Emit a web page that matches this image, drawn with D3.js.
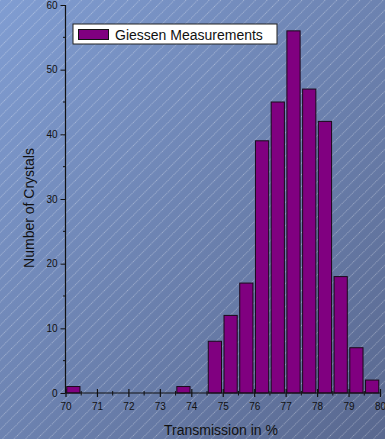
<!DOCTYPE html>
<html><head><meta charset="utf-8">
<script src="https://cdn.jsdelivr.net/npm/d3@7"></script>
<style>html,body{margin:0;padding:0;overflow:hidden;background:#6b80b0}</style>
</head><body>
<script>
const binStarts = [70,70.5,71,71.5,72,72.5,73,73.5,74,74.5,75,75.5,76,76.5,77,77.5,78,78.5,79,79.5];
const counts    = [1, 0, 0, 0, 0, 0, 0, 1, 0, 8, 12, 17, 39, 45, 56, 47, 42, 18, 7, 2];
const xTicks = [70,71,72,73,74,75,76,77,78,79,80];
const yTicks = [0,10,20,30,40,50,60];
const seriesName = "Giessen Measurements";

const W = 385, H = 439;
const svg = d3.select("body").append("svg").attr("width", W).attr("height", H);
const defs = svg.append("defs");
const g = defs.append("linearGradient").attr("id","bg").attr("x1","0").attr("y1","0").attr("x2","1").attr("y2","1");
g.append("stop").attr("offset","0").attr("stop-color","#809dd2");
g.append("stop").attr("offset","1").attr("stop-color","#59688f");
const pat = defs.append("pattern").attr("id","hatch").attr("patternUnits","userSpaceOnUse")
  .attr("width",8.2).attr("height",8.2).attr("patternTransform","rotate(45)");
pat.append("line").attr("x1",0.5).attr("y1",0).attr("x2",0.5).attr("y2",8.2)
  .attr("stroke","#ffffff").attr("stroke-opacity",0.5).attr("stroke-width",0.7).attr("stroke-dasharray","1,1");

svg.append("rect").attr("width",W).attr("height",H).attr("fill","url(#bg)");
svg.append("rect").attr("width",W).attr("height",H).attr("fill","url(#hatch)");

const x = d3.scaleLinear().domain([70,80]).range([65.5,380]);
const y = d3.scaleLinear().domain([0,60]).range([393,5]);

// bars
const binW = 0.5;
const bars = svg.append("g");
binStarts.forEach((b,i)=>{
  if(counts[i] <= 0) return;
  const x0 = x(b), x1 = x(b+binW);
  const w = (x1-x0)*0.84;
  const cx = (x0+x1)/2;
  bars.append("rect")
    .attr("x", cx - w/2).attr("y", y(counts[i]))
    .attr("width", w).attr("height", y(0)-y(counts[i]))
    .attr("fill","#800080").attr("stroke","#1a0a1a").attr("stroke-width",1);
});

// y axis
const yAxis = d3.axisLeft(y).tickValues(yTicks).tickSize(5).tickPadding(3).tickFormat(d3.format("d"));
const ya = svg.append("g").attr("transform","translate(65.5,0)").call(yAxis);
ya.select(".domain").attr("d","M0,"+y(60)+"V"+y(0)).attr("stroke","#111").attr("stroke-width",1.2);
ya.selectAll(".tick line").attr("stroke","#111");
ya.selectAll(".tick text").attr("font-family","Arial, 'Liberation Sans', sans-serif").attr("font-size",10).attr("fill","#111");
const yMinor = d3.range(5,60,10);
ya.selectAll(".minor").data(yMinor).enter().append("line").attr("class","minor")
  .attr("x1",-2.5).attr("x2",0).attr("y1",d=>y(d)).attr("y2",d=>y(d)).attr("stroke","#111");

// x axis
const xAxis = d3.axisBottom(x).tickValues(xTicks).tickSize(4).tickPadding(6).tickFormat(d3.format("d"));
const xa = svg.append("g").attr("transform","translate(0,"+y(0)+")").call(xAxis);
xa.select(".domain").attr("d","M"+x(70)+",0H"+x(80)).attr("stroke","#111").attr("stroke-width",1.2);
xa.selectAll(".tick line").attr("y1",-4).attr("y2",4).attr("stroke","#111").attr("stroke-width",1.2);
xa.selectAll(".tick text").attr("font-family","Arial, 'Liberation Sans', sans-serif").attr("font-size",10).attr("fill","#111");
const xMinor = d3.range(70.5,80,1);
xa.selectAll(".minor").data(xMinor).enter().append("line").attr("class","minor")
  .attr("x1",d=>x(d)).attr("x2",d=>x(d)).attr("y1",-2).attr("y2",2.5).attr("stroke","#111");

// axis titles
svg.append("text").attr("x",221).attr("y",435).attr("text-anchor","middle")
  .attr("font-family","Arial, 'Liberation Sans', sans-serif").attr("font-size",14).attr("fill","#111")
  .text("Transmission in %");
svg.append("text").attr("transform","translate(34,208) rotate(-90)").attr("text-anchor","middle")
  .attr("font-family","Arial, 'Liberation Sans', sans-serif").attr("font-size",14).attr("fill","#111")
  .text("Number of Crystals");

// legend
const lg = svg.append("g");
lg.append("rect").attr("x",73).attr("y",24).attr("width",204).attr("height",20)
  .attr("fill","#ffffff").attr("stroke","#222").attr("stroke-width",1);
lg.append("rect").attr("x",78.5).attr("y",29.5).attr("width",30).attr("height",10)
  .attr("fill","#800080").attr("stroke","#111").attr("stroke-width",1);
lg.append("text").attr("x",115).attr("y",39.5)
  .attr("font-family","Arial, 'Liberation Sans', sans-serif").attr("font-size",14).attr("fill","#111")
  .text(seriesName);
</script>
</body></html>
